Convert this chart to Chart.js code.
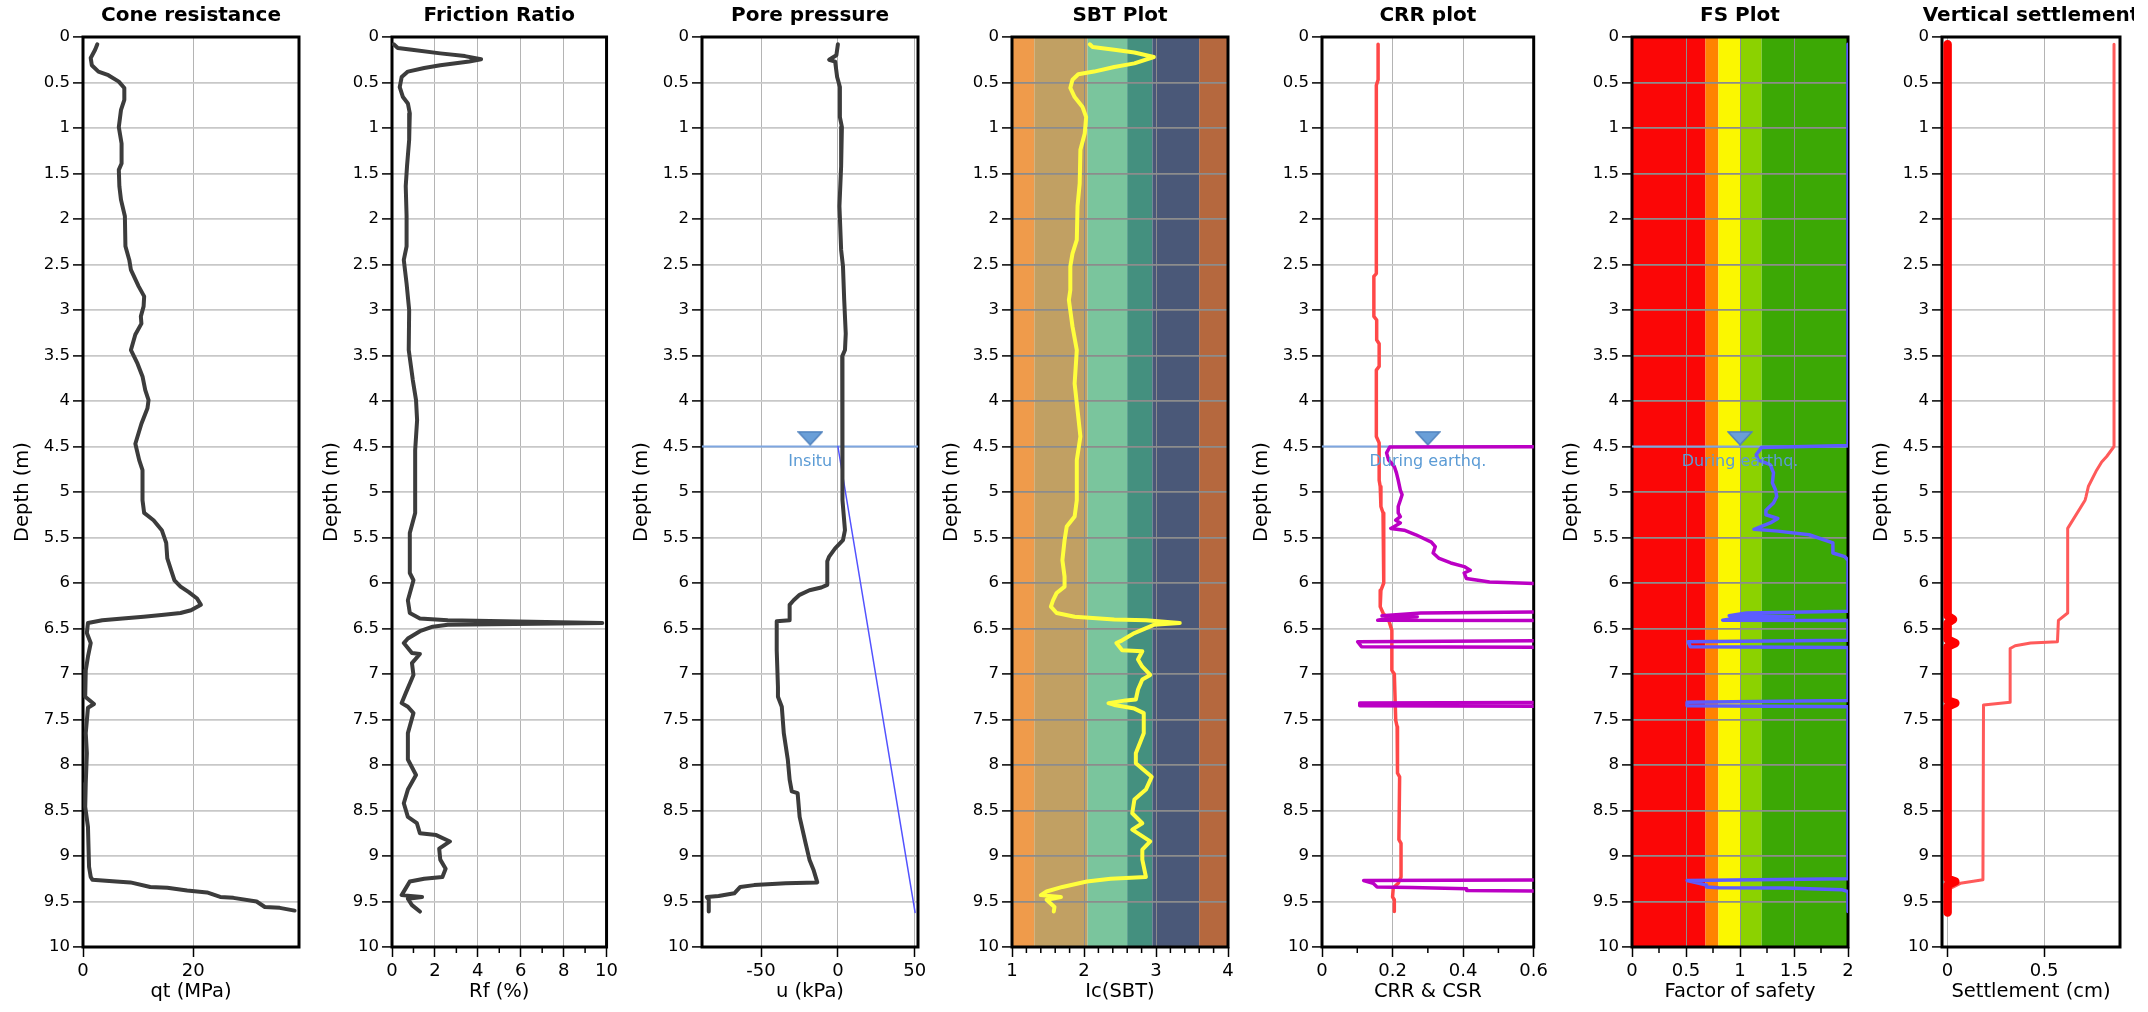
<!DOCTYPE html>
<html>
<head>
<meta charset="utf-8">
<script src="https://cdn.jsdelivr.net/npm/chart.js@4.4.0/dist/chart.umd.min.js"></script>
<style>
  body { margin: 0; background: #fff; width: 2148px; height: 1012px; overflow: hidden; position: relative; }
  canvas { position: absolute; top: 0; }
</style>
</head>
<body>
<script>
// ---- data (depth in m) ----
const qtDepth = [0.08,0.14,0.23,0.31,0.38,0.42,0.49,0.56,0.69,0.80,0.99,1.17,1.39,1.46,1.64,1.79,1.97,2.30,2.45,2.56,
  2.74,2.85,2.96,3.07,3.15,3.27,3.44,3.59,3.73,3.88,3.99,4.08,4.25,4.47,4.65,4.76,5.09,5.23,5.31,5.42,
  5.56,5.73,5.86,5.97,6.04,6.10,6.17,6.24,6.30,6.33,6.35,6.37,6.39,6.41,6.44,6.55,6.66,6.81,6.96,7.25,
  7.33,7.37,7.65,7.87,8.20,8.46,8.68,9.12,9.23,9.26,9.28,9.29,9.34,9.35,9.38,9.40,9.45,9.46,9.50,9.56,
  9.57,9.60]
const qtValue = [2.6,2.2,1.4,1.6,2.8,4.6,6.5,7.5,7.5,6.9,6.5,7.0,7.0,6.5,6.6,6.9,7.6,7.7,8.4,8.7,
  10.1,11.1,11.0,10.5,10.6,9.5,8.7,9.9,10.8,11.3,11.9,11.7,10.6,9.5,10.2,10.8,10.8,11.1,12.8,14.3,
  15.1,15.3,16.0,16.6,17.7,19.2,20.7,21.4,19.6,17.7,14.7,11.0,7.2,3.5,0.9,0.7,1.4,0.9,0.5,0.4,
  2.0,0.9,0.5,0.7,0.5,0.4,0.9,1.1,1.4,1.7,6,8.6,12.2,15.3,18.9,22.5,24.9,27.3,31.5,33.0,
  35.7,38.4]

const rfDepth = [0.08,0.12,0.14,0.18,0.21,0.245,0.27,0.31,0.34,0.38,0.44,0.55,0.66,0.73,0.84,1.13,1.42,1.64,1.97,2.30,
  2.45,2.71,3.0,3.44,3.77,3.99,4.21,4.54,5.09,5.23,5.45,5.89,5.97,6.19,6.33,6.39,6.41,6.44,6.46,6.48,
  6.53,6.61,6.66,6.77,6.78,6.88,7.01,7.21,7.32,7.36,7.43,7.65,7.94,8.11,8.27,8.42,8.57,8.64,8.75,8.77,
  8.84,8.92,9.04,9.14,9.23,9.25,9.28,9.43,9.45,9.47,9.54,9.61]
const rfValue = [0.08,0.27,0.93,2.25,3.4,4.15,3.6,2.25,1.5,0.74,0.45,0.36,0.51,0.74,0.83,0.8,0.7,0.64,0.68,0.68,
  0.55,0.68,0.8,0.78,0.97,1.12,1.17,1.08,1.08,1.08,0.83,0.83,1.0,0.74,0.83,1.3,2.6,9.8,2.6,1.9,
  1.3,0.74,0.55,0.93,1.3,0.93,1.0,0.64,0.45,0.74,1.0,0.74,0.74,1.12,0.74,0.55,0.74,1.16,1.3,2.06,
  2.7,2.2,2.25,2.5,2.35,1.5,0.83,0.45,1.4,0.74,0.93,1.3]

const uDepth = [0.08,0.2,0.25,0.27,0.44,0.55,0.88,0.99,1.42,1.86,2.34,2.52,2.89,3.26,3.44,3.51,4.25,4.5,5.09,5.42,
  5.53,5.62,5.71,5.76,6.02,6.05,6.08,6.13,6.19,6.24,6.41,6.42,6.74,7.14,7.25,7.36,7.65,7.94,8.16,8.29,
  8.31,8.57,8.86,9.04,9.15,9.29,9.30,9.32,9.34,9.41,9.44,9.45,9.48,9.61]
const uValue = [0,-1,-5.7,-1.8,-0.5,1.3,1.3,2.6,2.1,1.0,2.1,3.3,4.1,5.1,4.6,2.8,2.8,3.3,2.8,4.6,
  3.3,-1.8,-5.7,-6.9,-6.9,-10.8,-18.5,-24.9,-28.8,-31.4,-31.4,-39.8,-39.8,-39,-39,-36.5,-35.2,-32.6,-31.4,-30,
  -26.2,-24.9,-21,-18.5,-15.9,-13.4,-33.9,-54.5,-63.5,-67.4,-77.6,-85.3,-84,-84]
const hydroDepth = [4.5, 9.62]
const hydroValue = [0, 50.2]

const icDepth = [0.08,0.11,0.14,0.17,0.22,0.29,0.33,0.38,0.41,0.47,0.56,0.66,0.77,0.88,1.06,1.24,1.61,1.86,2.23,2.38,
  2.52,2.78,2.89,3.18,3.44,3.81,4.17,4.39,4.65,5.09,5.27,5.38,5.53,5.75,5.93,6.04,6.11,6.19,6.26,6.33,
  6.37,6.40,6.41,6.44,6.46,6.55,6.63,6.66,6.74,6.75,6.84,6.92,7.01,7.06,7.17,7.28,7.29,7.32,7.34,7.38,
  7.43,7.65,7.87,7.98,8.13,8.27,8.38,8.53,8.64,8.71,8.84,8.93,9.04,9.23,9.25,9.28,9.34,9.39,9.43,9.45,
  9.48,9.56,9.61]
const icValue = [2.08,2.12,2.42,2.70,2.97,2.70,2.42,2.14,1.92,1.84,1.81,1.87,1.98,2.03,2.01,1.95,1.94,1.91,1.90,1.84,
  1.81,1.81,1.79,1.84,1.90,1.87,1.92,1.95,1.90,1.90,1.87,1.76,1.73,1.70,1.73,1.73,1.62,1.57,1.54,1.62,
  1.87,2.42,2.86,3.33,2.97,2.70,2.53,2.45,2.53,2.81,2.75,2.81,2.92,2.81,2.75,2.72,2.58,2.34,2.42,2.70,
  2.83,2.83,2.72,2.72,2.94,2.86,2.70,2.67,2.81,2.67,2.92,2.81,2.81,2.86,2.37,2.04,1.70,1.48,1.40,1.68,
  1.48,1.59,1.58]
const sbtBounds = [1, 1.31, 2.05, 2.6, 2.95, 3.6, 4]
const sbtColors = ['#ef9b4b', '#c1a063', '#7ac59d', '#44907f', '#4a5878', '#b5683e']

const crrDepth = [0.08,0.47,0.53,2.6,2.63,3.07,3.11,3.33,3.37,3.62,3.66,4.39,4.46,4.87,4.94,5.16,5.23,6.0,6.08,6.26,
  6.33,6.41,6.52,6.96,7.0,7.51,7.58,8.09,8.13,8.82,8.86,9.23,9.30,9.35,9.45,9.48,9.61]
const crrValue = [0.159,0.159,0.154,0.154,0.147,0.147,0.155,0.155,0.162,0.162,0.154,0.154,0.162,0.162,0.165,0.167,0.173,0.175,0.167,0.165,
  0.173,0.189,0.198,0.198,0.205,0.209,0.213,0.214,0.22,0.218,0.224,0.224,0.216,0.202,0.2,0.205,0.205]

// CSR beyond the axis (0.8) runs off the right edge of the plot
const csrDepth = [4.5,4.505,4.57,4.65,4.72,4.79,4.87,4.98,5.03,5.09,5.16,5.23,5.27,5.31,5.34,5.40,5.42,5.47,5.55,5.60,
  5.67,5.73,5.78,5.82,5.86,5.89,5.95,5.99,6.03,6.31,6.33,6.36,6.37,6.38,6.41,6.412,6.63,6.645,6.70,6.71,
  7.31,7.32,7.35,7.355,9.26,9.27,9.30,9.34,9.345,9.36,9.38,9.39,9.61]
const csrValue = [0.8,0.192,0.183,0.189,0.205,0.211,0.216,0.222,0.227,0.222,0.216,0.216,0.222,0.209,0.222,0.195,0.233,0.266,0.31,0.321,
  0.315,0.332,0.365,0.403,0.42,0.403,0.409,0.475,0.8,0.8,0.28,0.17,0.27,0.2,0.158,0.8,0.8,0.101,0.112,0.8,
  0.8,0.107,0.107,0.8,0.8,0.118,0.145,0.156,0.255,0.41,0.41,0.8,0.8]

const fsDepth = [0.08,4.49,4.51,4.59,4.65,4.70,4.79,4.90,4.98,5.05,5.12,5.20,5.25,5.29,5.34,5.41,5.43,5.47,5.56,5.67,
  5.71,5.75,6.31,6.33,6.36,6.37,6.38,6.41,6.412,6.63,6.645,6.70,6.71,7.29,7.31,7.35,7.36,9.25,9.27,9.32,
  9.34,9.35,9.352,9.37,9.39,9.61]
const fsValue = [2,2,1.2,1.15,1.17,1.28,1.31,1.30,1.33,1.34,1.31,1.24,1.24,1.35,1.28,1.13,1.35,1.64,1.86,1.86,
  1.97,2,2,1.06,0.9,1.5,1.0,0.84,2,2,0.52,0.54,2,2,0.51,0.51,2,2,0.51,0.69,
  0.69,0.8,1.42,1.94,2,2]
const fsBounds = [0, 0.68, 0.8, 1.0, 1.2, 2]
const fsColors = ['#fb0606', '#ff8200', '#fbf700', '#8cd200', '#3ca805']

const setDepth = [0.08,6.36,6.40,6.44,6.62,6.66,6.70,7.29,7.32,7.36,9.25,9.28,9.32,9.62]
const setValue = [0,0,0.028,0,0,0.04,0,0,0.04,0,0,0.04,0,0]
const cumDepth = [0.08,4.5,4.61,4.67,4.76,4.94,5.05,5.09,5.40,6.33,6.41,6.645,6.66,6.69,6.72,7.31,7.34,9.26,9.30,9.355,9.62]
const cumValue = [0.862,0.862,0.824,0.798,0.772,0.729,0.717,0.712,0.622,0.622,0.574,0.569,0.43,0.35,0.324,0.324,0.186,0.183,0.066,0.014,0]

const waterDepth = 4.5
const markerDepth = 4.41
const labelDepth = 4.67

// axis ranges and tick labels
const qtTicks = [0, 20]
const rfTicks = [0, 2, 4, 6, 8, 10]
const rfMinor = [1, 3, 5, 7, 9]
const uTicks = [-50, 0, 50]
const icTicks = [1, 2, 3, 4]
const icMinor = [1.2, 1.4, 1.6, 1.8, 2.2, 2.4, 2.6, 2.8, 3.2, 3.4, 3.6, 3.8]
const crrTicks = [0, 0.2, 0.4, 0.6]
const crrMinor = [0.1, 0.3, 0.5]
const fsTicks = [0, 0.5, 1, 1.5, 2]
const fsMinor = [0.25, 0.75, 1.25, 1.75]
const setTicks = [0, 0.5]

// ---- layout ----
const FONT = '"DejaVu Sans", Verdana, sans-serif'
Chart.defaults.font.family = FONT
Chart.defaults.color = '#000'

const plotTop = 37
const plotBottom = 947
const yAxisWidth = 83
const padRight = 14

function pts(depths, values) {
  return depths.map((d, i) => ({ x: values[i], y: d }))
}

function line(depths, values, color, width, extra) {
  return Object.assign({
    data: pts(depths, values),
    showLine: true,
    borderColor: color,
    backgroundColor: color,
    borderWidth: width,
    pointRadius: 0,
    borderJoinStyle: 'round',
    borderCapStyle: 'round',
    fill: false
  }, extra || {})
}

function triangleImage() {
  const c = document.createElement('canvas')
  c.width = 26
  c.height = 15
  const g = c.getContext('2d')
  g.beginPath()
  g.moveTo(1, 1)
  g.lineTo(25, 1)
  g.lineTo(13, 14)
  g.closePath()
  g.fillStyle = '#6a9fd8'
  g.fill()
  g.strokeStyle = '#4f81bd'
  g.lineWidth = 1.5
  g.stroke()
  return c
}
const triangle = triangleImage()

function waterSets(xMin, xMax, markerX) {
  return [
    { data: [{ x: markerX, y: markerDepth }], showLine: false, pointStyle: triangle, pointRadius: 10 },
    line([waterDepth, waterDepth], [xMin, xMax], '#7ea6e0', 2, { borderCapStyle: 'butt' })
  ]
}

function makeDeco(p) {
  return {
    id: 'panelDeco',
    beforeDraw(chart) {
      if (!p.bands) return
      const { ctx, chartArea } = chart
      const xs = chart.scales.x
      ctx.save()
      for (let i = 0; i < p.bands.colors.length; i++) {
        const x0 = xs.getPixelForValue(p.bands.bounds[i])
        const x1 = xs.getPixelForValue(p.bands.bounds[i + 1])
        ctx.fillStyle = p.bands.colors[i]
        ctx.fillRect(x0, chartArea.top, x1 - x0, chartArea.bottom - chartArea.top)
      }
      ctx.restore()
    },
    beforeDatasetsDraw(chart) {
      const { ctx, chartArea } = chart
      ctx.save()
      ctx.strokeStyle = '#000'
      ctx.lineWidth = 3
      ctx.strokeRect(chartArea.left, chartArea.top, chartArea.right - chartArea.left, chartArea.bottom - chartArea.top)
      ctx.restore()
    },
    afterDraw(chart) {
      const { ctx, chartArea } = chart
      const xs = chart.scales.x
      const ys = chart.scales.y
      ctx.save()
      // minor ticks
      if (p.minor) {
        ctx.strokeStyle = '#000'
        ctx.lineWidth = 1.5
        for (const v of p.minor) {
          const x = xs.getPixelForValue(v)
          ctx.beginPath()
          ctx.moveTo(x, chartArea.bottom)
          ctx.lineTo(x, chartArea.bottom + 6)
          ctx.stroke()
        }
      }
      // panel title
      ctx.fillStyle = '#000'
      ctx.font = 'bold 20px ' + FONT
      ctx.textAlign = 'center'
      ctx.textBaseline = 'middle'
      ctx.fillText(p.title, (chartArea.left + chartArea.right) / 2, 16)
      // water table label
      if (p.water) {
        ctx.font = '16px ' + FONT
        ctx.fillStyle = '#5b9bd5'
        ctx.fillText(p.water.label, xs.getPixelForValue(p.water.x), ys.getPixelForValue(labelDepth))
      }
      ctx.restore()
    }
  }
}

function makePanel(p) {
  const canvas = document.createElement('canvas')
  const w = yAxisWidth + p.plotWidth + padRight
  canvas.width = w
  canvas.height = 1012
  canvas.style.left = (p.plotLeft - yAxisWidth) + 'px'
  canvas.style.width = w + 'px'
  canvas.style.height = '1012px'
  document.body.appendChild(canvas)
  const gridColor = p.bands ? '#8c8c8c' : '#c8c8c8'
  new Chart(canvas, {
    type: 'scatter',
    data: { datasets: p.datasets },
    options: {
      responsive: false,
      animation: false,
      devicePixelRatio: 1,
      layout: { padding: { top: plotTop, right: padRight, left: 0, bottom: 0 } },
      plugins: { legend: { display: false }, tooltip: { enabled: false } },
      scales: {
        x: {
          type: 'linear',
          position: 'bottom',
          min: p.xMin,
          max: p.xMax,
          afterBuildTicks: s => { s.ticks = p.ticks.map(v => ({ value: v })) },
          afterFit: s => { s.height = 1012 - plotBottom },
          border: { display: false },
          grid: { color: p.bands ? '#8c8c8c' : '#b4b4b4', lineWidth: 1, tickColor: '#000', tickLength: 10, tickWidth: 1.5 },
          ticks: { font: { size: 18 }, padding: 4, maxRotation: 0, callback: v => String(v) },
          title: { display: true, text: p.xTitle, font: { size: 19.5 }, padding: { top: 0, bottom: 8.5 } }
        },
        y: {
          type: 'linear',
          reverse: true,
          min: 0,
          max: 10,
          afterFit: s => { s.width = yAxisWidth },
          border: { display: false },
          grid: { color: gridColor, lineWidth: 1.8, tickColor: '#000', tickLength: 10, tickWidth: 1.5 },
          ticks: { stepSize: 0.5, font: { size: 16.5 }, padding: 3, callback: v => String(v) },
          title: { display: true, text: 'Depth (m)', font: { size: 19.5 }, padding: { top: 11.5, bottom: 0 } }
        }
      }
    },
    plugins: [makeDeco(p)]
  })
}

const panels = [
  {
    title: 'Cone resistance', xTitle: 'qt (MPa)', plotLeft: 83, plotWidth: 216,
    xMin: 0, xMax: 39.2, ticks: qtTicks,
    datasets: [line(qtDepth, qtValue, '#3c3c3c', 4)]
  },
  {
    title: 'Friction Ratio', xTitle: 'Rf (%)', plotLeft: 392, plotWidth: 216,
    xMin: 0, xMax: 10, ticks: rfTicks, minor: rfMinor,
    datasets: [line(rfDepth, rfValue, '#3c3c3c', 4)]
  },
  {
    title: 'Pore pressure', xTitle: 'u (kPa)', plotLeft: 702, plotWidth: 216,
    xMin: -88.4, xMax: 52.1, ticks: uTicks,
    water: { label: 'Insitu', x: -18 },
    datasets: [
      line(uDepth, uValue, '#3c3c3c', 4),
      line(hydroDepth, hydroValue, '#5252ff', 1.5),
      ...waterSets(-88.4, 52.1, -18)
    ]
  },
  {
    title: 'SBT Plot', xTitle: 'Ic(SBT)', plotLeft: 1012, plotWidth: 216,
    xMin: 1, xMax: 4, ticks: icTicks, minor: icMinor,
    bands: { bounds: sbtBounds, colors: sbtColors },
    datasets: [line(icDepth, icValue, '#ffff3c', 4)]
  },
  {
    title: 'CRR plot', xTitle: 'CRR & CSR', plotLeft: 1322, plotWidth: 216,
    xMin: 0, xMax: 0.6, ticks: crrTicks, minor: crrMinor,
    water: { label: 'During earthq.', x: 0.3 },
    datasets: [
      line(csrDepth, csrValue, '#bb00c4', 3.5),
      line(crrDepth, crrValue, '#ff4848', 3.5),
      ...waterSets(0, 0.6, 0.3)
    ]
  },
  {
    title: 'FS Plot', xTitle: 'Factor of safety', plotLeft: 1632, plotWidth: 216,
    xMin: 0, xMax: 2, ticks: fsTicks, minor: fsMinor,
    bands: { bounds: fsBounds, colors: fsColors },
    water: { label: 'During earthq.', x: 1.0 },
    datasets: [
      line(fsDepth, fsValue, '#5c5cff', 3.5),
      ...waterSets(0, 2, 1.0)
    ]
  },
  {
    title: 'Vertical settlement', xTitle: 'Settlement (cm)', plotLeft: 1942, plotWidth: 178,
    xMin: -0.029, xMax: 0.893, ticks: setTicks,
    datasets: [
      line(setDepth, setValue, '#ff0000', 8.5),
      line(cumDepth, cumValue, '#ff5a5a', 3)
    ]
  }
]

panels.forEach(makePanel)
</script>
</body>
</html>
